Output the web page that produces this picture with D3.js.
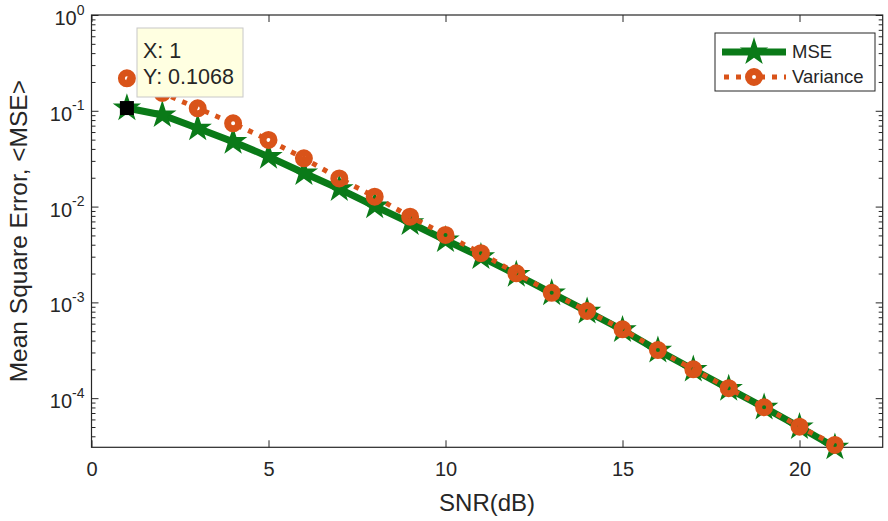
<!DOCTYPE html>
<html>
<head>
<meta charset="utf-8">
<script src="https://cdn.jsdelivr.net/npm/d3@7"></script>
<style>
    body { margin: 0; background: #fff; }
    #chart { width: 888px; height: 521px; }
    text { font-family: "Liberation Sans", Arial, sans-serif; fill: #262626; }
</style>
</head>
<body>
<div id="chart"></div>
<script>
// values
const snr = [1, 2, 3, 4, 5, 6, 7, 8, 9, 10, 11, 12, 13, 14, 15, 16, 17, 18, 19, 20, 21];
const mse = [0.1068, 0.0904, 0.0657, 0.0476, 0.0332, 0.0224, 0.0153, 0.0101, 0.00675, 0.00448,
    0.00298, 0.00195, 0.00125, 0.000804, 0.000515, 0.000315, 0.000199, 0.000126, 0.0000800, 0.0000500, 0.0000307];
const variance = [0.2184, 0.1534, 0.1062, 0.0741, 0.0496, 0.0319, 0.0197, 0.0127, 0.00785, 0.00506,
    0.00326, 0.00201, 0.00126, 0.000813, 0.000524, 0.000318, 0.000200, 0.000127, 0.0000804, 0.0000504, 0.0000325];
const xTicks = [0, 5, 10, 15, 20];
const yTicks = [1, 0.1, 0.01, 0.001, 0.0001];
const yExponents = ["0", "-1", "-2", "-3", "-4"];
const seriesNames = ["MSE", "Variance"];
const tipIndex = 0;

const GREEN = "#0a7a18";
const ORANGE = "#d95319";
const AXIS = "#262626";

class MseChart {
    constructor(parentElement) {
        this.parentElement = parentElement;
        this.initVis();
    }

    initVis() {
        let vis = this;

        vis.margin = {top: 15, right: 5.3, bottom: 73.7, left: 91.5};
        vis.width = 888 - vis.margin.left - vis.margin.right;
        vis.height = 521 - vis.margin.top - vis.margin.bottom;

        vis.root = d3.select("#" + vis.parentElement).append("svg")
            .attr("width", 888)
            .attr("height", 521);
        vis.svg = vis.root.append("g")
            .attr("transform", `translate(${vis.margin.left}, ${vis.margin.top})`);

        vis.x = d3.scaleLinear().domain([0, 22.35]).range([0, vis.width]);
        vis.y = d3.scaleLog().domain([d3.min(mse), 1]).range([vis.height, 0]);

        vis.wrangleData();
    }

    wrangleData() {
        let vis = this;
        vis.mseData = snr.map((s, i) => ({x: s, y: mse[i]}));
        vis.varData = snr.map((s, i) => ({x: s, y: variance[i]}));

        // minor ticks for the log axis
        vis.minorTicks = [];
        for (let e = -5; e < 0; e++) {
            for (let m = 2; m <= 9; m++) {
                let v = m * Math.pow(10, e);
                if (v >= vis.y.domain()[0] && v <= 1) vis.minorTicks.push(v);
            }
        }
        vis.updateVis();
    }

    updateVis() {
        let vis = this;

        // axes with inward ticks on all four sides
        let bottom = vis.svg.append("g").attr("class", "x-axis")
            .attr("transform", `translate(0, ${vis.height})`)
            .call(d3.axisBottom(vis.x).tickValues(xTicks).tickSizeInner(-7).tickSizeOuter(0).tickPadding(15));
        let top = vis.svg.append("g")
            .call(d3.axisTop(vis.x).tickValues(xTicks).tickSizeInner(-7).tickSizeOuter(0).tickFormat(""));
        let left = vis.svg.append("g").attr("class", "y-axis")
            .call(d3.axisLeft(vis.y).tickValues(yTicks).tickSizeInner(-7).tickSizeOuter(0).tickFormat(""));
        let leftMinor = vis.svg.append("g")
            .call(d3.axisLeft(vis.y).tickValues(vis.minorTicks).tickSizeInner(-4).tickSizeOuter(0).tickFormat(""));
        let right = vis.svg.append("g")
            .attr("transform", `translate(${vis.width}, 0)`)
            .call(d3.axisRight(vis.y).tickValues(yTicks).tickSizeInner(-7).tickSizeOuter(0).tickFormat(""));
        let rightMinor = vis.svg.append("g")
            .attr("transform", `translate(${vis.width}, 0)`)
            .call(d3.axisRight(vis.y).tickValues(vis.minorTicks).tickSizeInner(-4).tickSizeOuter(0).tickFormat(""));

        [bottom, top, left, leftMinor, right, rightMinor].forEach(g => {
            g.select(".domain").remove();
            g.selectAll("line").attr("stroke", AXIS).attr("stroke-width", 1);
        });
        bottom.selectAll("text").attr("font-size", 20).attr("fill", AXIS)
            .attr("font-family", "Liberation Sans, Arial, sans-serif");

        // y tick labels 10^n
        let ylab = vis.svg.append("g").selectAll(".ylab")
            .data(yTicks)
            .enter().append("text")
            .attr("class", "ylab")
            .attr("text-anchor", "end")
            .attr("x", -7)
            .attr("y", d => vis.y(d) + 10)
            .attr("font-size", 20);
        ylab.append("tspan").text("10");
        ylab.append("tspan").attr("dy", -10.5).attr("font-size", 14).text((d, i) => yExponents[i]);

        // frame
        vis.svg.append("rect")
            .attr("width", vis.width).attr("height", vis.height)
            .attr("fill", "none").attr("stroke", AXIS).attr("stroke-width", 1.2);

        let line = d3.line().x(d => vis.x(d.x)).y(d => vis.y(d.y));
        let star = d3.symbol().type(d3.symbolStar).size(250);

        // MSE series
        vis.svg.append("path").datum(vis.mseData)
            .attr("d", line).attr("fill", "none")
            .attr("stroke", GREEN).attr("stroke-width", 7).attr("stroke-linejoin", "round");
        vis.svg.selectAll(".star").data(vis.mseData)
            .enter().append("path").attr("class", "star")
            .attr("d", star)
            .attr("transform", d => `translate(${vis.x(d.x)}, ${vis.y(d.y)})`)
            .attr("fill", GREEN);

        // Variance series
        vis.svg.append("path").datum(vis.varData)
            .attr("d", line).attr("fill", "none")
            .attr("stroke", ORANGE).attr("stroke-width", 5)
            .attr("stroke-dasharray", "5,7");
        vis.svg.selectAll(".circ").data(vis.varData)
            .enter().append("circle").attr("class", "circ")
            .attr("cx", d => vis.x(d.x)).attr("cy", d => vis.y(d.y))
            .attr("r", 5.5).attr("fill", "none")
            .attr("stroke", ORANGE).attr("stroke-width", 7);

        // axis labels
        vis.root.append("text")
            .attr("x", vis.margin.left + vis.width / 2).attr("y", 511)
            .attr("text-anchor", "middle").attr("font-size", 24)
            .text("SNR(dB)");
        vis.root.append("g")
            .attr("transform", `translate(27, ${vis.margin.top + vis.height / 2}) rotate(-90)`)
            .append("text")
            .attr("text-anchor", "middle").attr("font-size", 24.5)
            .text("Mean Square Error, <MSE>");

        // legend
        let lg = vis.root.append("g").attr("transform", "translate(715, 33)");
        lg.append("rect").attr("width", 160).attr("height", 58)
            .attr("fill", "#fff").attr("stroke", AXIS).attr("stroke-width", 1);
        let rows = lg.selectAll(".lrow").data(seriesNames).enter().append("g")
            .attr("transform", (d, i) => `translate(0, ${19 + i * 25})`);
        rows.filter((d, i) => i === 0).append("line")
            .attr("x1", 7).attr("x2", 71).attr("stroke", GREEN).attr("stroke-width", 7);
        rows.filter((d, i) => i === 0).append("path")
            .attr("d", star).attr("transform", "translate(39, 0)").attr("fill", GREEN);
        rows.filter((d, i) => i === 1).append("line")
            .attr("x1", 9).attr("x2", 71).attr("stroke", ORANGE).attr("stroke-width", 5)
            .attr("stroke-dasharray", "5,7");
        rows.filter((d, i) => i === 1).append("circle")
            .attr("cx", 39).attr("r", 5.5).attr("fill", "#fff")
            .attr("stroke", ORANGE).attr("stroke-width", 7);
        rows.append("text").attr("x", 77).attr("dy", "0.35em")
            .attr("font-size", 18.5).text(d => d);

        // data tip on the first MSE point
        let tp = vis.mseData[tipIndex];
        vis.svg.append("rect")
            .attr("x", vis.x(tp.x) - 7).attr("y", vis.y(tp.y) - 7)
            .attr("width", 14).attr("height", 14).attr("fill", "#000");
        let tip = vis.root.append("g").attr("transform", "translate(137, 28)");
        tip.append("rect").attr("width", 106).attr("height", 69)
            .attr("fill", "#ffffe1").attr("stroke", "#c8c8c8").attr("stroke-width", 1);
        tip.append("text").attr("x", 6).attr("y", 30).attr("font-size", 21.5)
            .text(`X: ${tp.x}`);
        tip.append("text").attr("x", 6).attr("y", 56).attr("font-size", 21.5)
            .text(`Y: ${tp.y}`);
    }
}

new MseChart("chart");
</script>
</body>
</html>
